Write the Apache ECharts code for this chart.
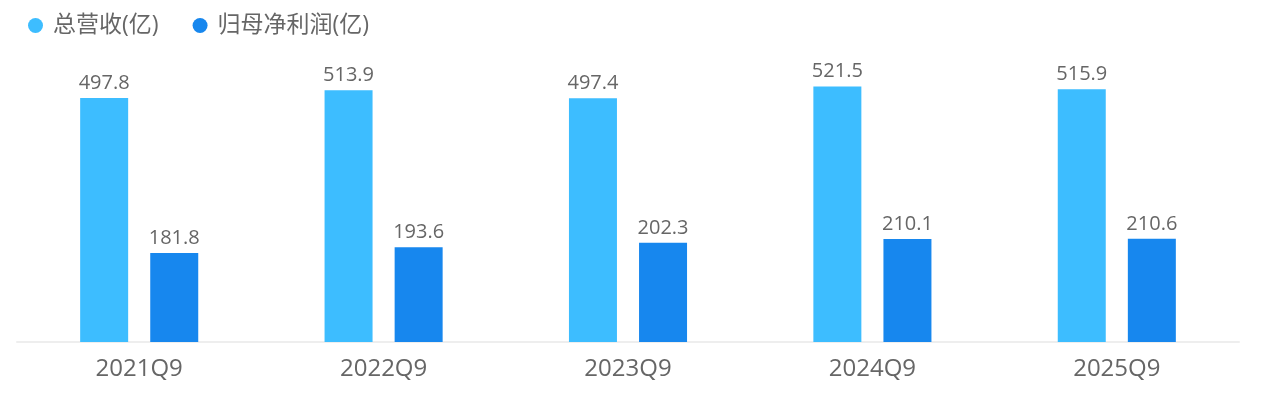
<!DOCTYPE html>
<html><head><meta charset="utf-8">
<script src="https://cdn.jsdelivr.net/npm/echarts@6/dist/echarts.min.js"></script>
<style>html,body{margin:0;padding:0;background:#fff}#c{width:1276px;height:402px}</style>
</head><body><div id="c"></div>
<script>
const categories = ['2021Q9','2022Q9','2023Q9','2024Q9','2025Q9'];
const revenue = [497.8, 513.9, 497.4, 521.5, 515.9];
const profit = [181.8, 193.6, 202.3, 210.1, 210.6];
const seriesNames = ['总营收(亿)', '归母净利润(亿)'];

const font = '"Open Sans", "Noto Sans CJK SC", sans-serif';
const chart = echarts.init(document.getElementById('c'));
chart.setOption({
  animation: false,
  textStyle: { fontFamily: font },
  legend: {
    left: 23, top: 9,
    itemWidth: 25, itemHeight: 15, icon: 'circle', itemGap: 34,
    textStyle: { fontSize: 23, color: '#666', fontFamily: font }
  },
  grid: { left: 17, right: 37, top: 48, bottom: 60 },
  xAxis: {
    type: 'category', data: categories,
    axisLine: { lineStyle: { color: '#eeeeee', width: 2 } },
    axisTick: { show: false },
    axisLabel: { fontSize: 24, color: '#666', margin: 15, fontFamily: font }
  },
  yAxis: { type: 'value', min: 0, max: 600, show: false, splitLine: { show: false } },
  series: [
    { name: seriesNames[0], type: 'bar', data: revenue, barWidth: 48, barGap: '46%',
      itemStyle: { color: '#3dbdff' },
      label: { show: true, position: 'top', fontSize: 20, color: '#666', fontFamily: font } },
    { name: seriesNames[1], type: 'bar', data: profit, barWidth: 48,
      itemStyle: { color: '#1787ee' },
      label: { show: true, position: 'top', fontSize: 20, color: '#666', fontFamily: font } }
  ]
});
</script></body></html>
